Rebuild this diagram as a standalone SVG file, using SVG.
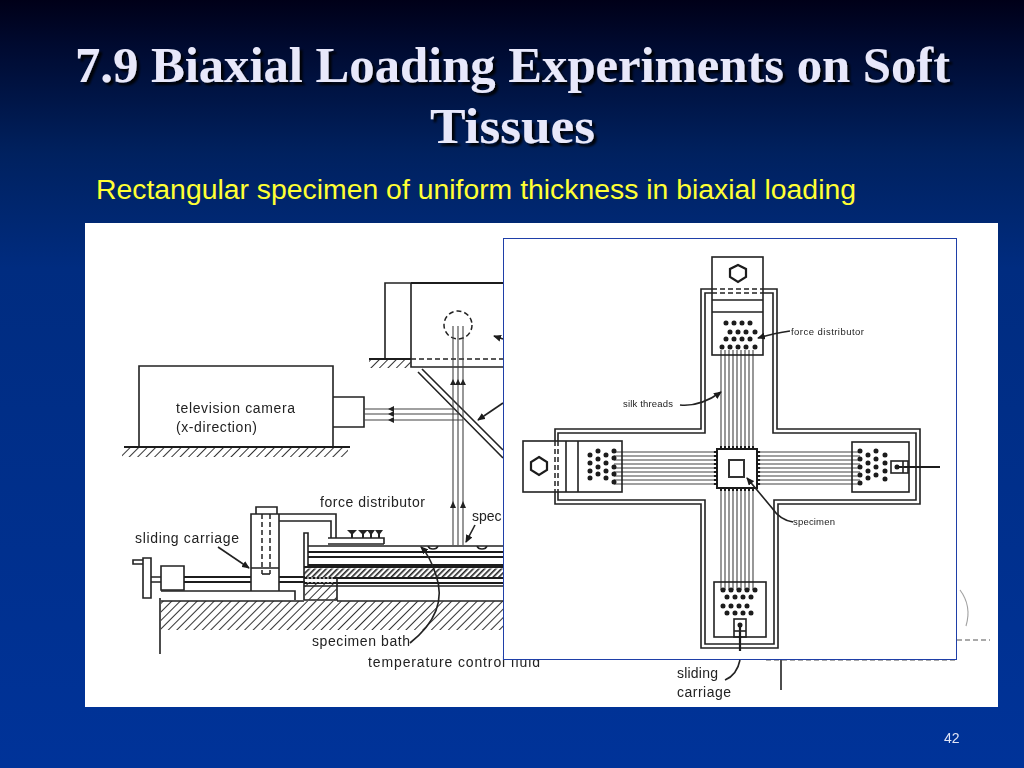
<svg xmlns="http://www.w3.org/2000/svg" width="1024" height="768" viewBox="0 0 1024 768">
<style>
.l{fill:none;stroke:#222;stroke-width:1.6}
.t{fill:none;stroke:#444;stroke-width:1.1}
.k{fill:none;stroke:#1a1a1a;stroke-width:2.2}
.d{fill:none;stroke:#222;stroke-width:1.5;stroke-dasharray:5 3}
.dot{fill:none;stroke:#1a1a1a;stroke-width:5;stroke-linecap:round}
.lb{font-family:"Liberation Sans",Arial,sans-serif;fill:#222;font-size:14px}
.ls{font-family:"Liberation Sans",Arial,sans-serif;fill:#222;font-size:9.500px}
.title{font-family:"Liberation Serif","Times New Roman",serif;font-weight:700;font-size:50px;fill:#e8e8fa;filter:url(#sh)}
.sub{font-family:"Liberation Sans",Arial,sans-serif;font-size:27px;fill:#ffff33}
.wd{fill:none;stroke:#fff;stroke-width:1.2;stroke-dasharray:2 2}
.g{fill:#222}
</style>
<defs>
<linearGradient id="bg" x1="0" y1="0" x2="0" y2="1">
<stop offset="0" stop-color="#000018"/>
<stop offset="0.06" stop-color="#000a30"/>
<stop offset="0.2" stop-color="#00215f"/>
<stop offset="0.35" stop-color="#002c80"/>
<stop offset="1" stop-color="#003399"/>
</linearGradient>
<pattern id="h" width="6" height="6" patternUnits="userSpaceOnUse" patternTransform="rotate(45)"><rect width="1" height="6" fill="#333"/></pattern>
<pattern id="hb" width="4" height="4" patternUnits="userSpaceOnUse" patternTransform="rotate(45)"><rect width="1.600" height="4" fill="#222"/></pattern>
<marker id="a" markerWidth="8" markerHeight="7" refX="7" refY="3.500" orient="auto" markerUnits="userSpaceOnUse"><path d="M0 0L8 3.500L0 7Z" fill="#1a1a1a"/></marker>
<filter id="sh" x="-5%" y="-20%" width="110%" height="150%"><feDropShadow dx="3" dy="3" stdDeviation="0.800" flood-color="#000" flood-opacity="0.900"/></filter>
<filter id="soft"><feGaussianBlur stdDeviation="0.400"/></filter>
</defs>
<rect id="background" width="1024" height="768" fill="url(#bg)"/>
<text class="title" x="75" y="82" textLength="875" lengthAdjust="spacingAndGlyphs">7.9 Biaxial Loading Experiments on Soft</text>
<text class="title" x="430" y="143" textLength="165" lengthAdjust="spacingAndGlyphs">Tissues</text>
<text class="sub" x="96" y="199" textLength="760" lengthAdjust="spacingAndGlyphs">Rectangular specimen of uniform thickness in biaxial loading</text>
<rect id="panel" x="85" y="223" width="913" height="484" fill="#fff"/>
<g id="side-view" filter="url(#soft)">
<g id="camera">
<path class="l" d="M139 447V366H333V447M333 397H364V427H333"/>
<path class="k" d="M124 447H350"/>
<rect x="122" y="448" width="226" height="9" fill="url(#h)"/>
</g>
<g id="upper-box">
<path class="l" d="M385 359V283H411M411 283V367H503"/>
<path class="k" d="M411 283H503"/>
<path class="d" d="M411 359H503" stroke-dasharray="3 2"/>
<path class="k" d="M369 359H411"/>
<rect x="369" y="360" width="42" height="8" fill="url(#h)"/>
<circle class="d" cx="458" cy="325" r="14"/>
<path class="l" d="M418 372L503 458M422 369L503 450"/>
<path class="l" d="M503 339L494 336" marker-end="url(#a)"/>
<path class="l" d="M503 403L478 420" marker-end="url(#a)"/>
</g>
<g id="beams">
<path class="t" d="M453 326V545M458 326V545M463 326V545"/>
<path class="t" d="M364 409H455M364 414H460M364 420H463" stroke-width="1.400"/>
<path class="g" d="M453 379l-3 6h6zM458 379l-3 6h6zM463 379l-3 6h6zM453 501l-3 7h6zM463 501l-3 7h6zM388 409l6-3v6zM388 414l6-3v6zM388 420l6-3v6z"/>
</g>
<g id="carriage">
<path class="l" d="M143 558h8v40h-8zM133 560h10v4h-10zM151 577h10M151 582h10M161 566h23v24h-23z"/>
<path class="k" d="M184 577H251M184 582H251M279 577H305M279 582H305"/>
<path class="wd" d="M164 577H182M164 582H182M254 577H277M254 582H277M254 586H277"/>
<path class="l" d="M161 591H295V600M251 591V514H279V591M251 568H279M256 514V507H277V514M279 521H331V538M279 514H336V538"/>
<path class="d" d="M262 514V574M270 514V574"/>
<path class="l" d="M262 574h8"/>
</g>
<g id="stage">
<path class="l" d="M304 600V533H308V568M328 538H384V544M328 544H384"/>
<path class="l" d="M308 546H503M428 546q1 3 5 3t5-3M477 546q1 3 5 3t5-3"/>
<path class="k" d="M308 552H503M308 557H503M308 565H503M304 567H503M304 578H503M304 583H503"/>
<path class="l" d="M304 586H503M337 601H503M304 600H337V578"/>
<rect x="304" y="568.500" width="199" height="9" fill="url(#hb)"/>
<rect x="305" y="584" width="32" height="16" fill="url(#h)"/>
<path class="wd" d="M307 578H334M307 582H334"/>
<path class="g" d="M347 530h10l-4 4v4h-2v-4zM358 530h10l-4 4v4h-2v-4zM367 530h8l-3 4v4h-2v-4zM375 530h8l-3 4v4h-2v-4z"/>
<rect x="161" y="601" width="342" height="29" fill="url(#h)"/>
<path class="l" d="M160 598V654M161 601H304"/>
</g>
<g id="side-connectors">
<path class="l" d="M410 643Q449 612 436 575Q430 556 421 547" marker-end="url(#a)"/>
<path class="l" d="M475 525L466 542" marker-end="url(#a)"/>
<path class="l" d="M218 547L249 568" marker-end="url(#a)"/>
</g>
<g id="behind-inset">
<path class="t" d="M960 590Q972 606 966 626" opacity="0.500"/>
<path class="d" d="M766 660H957M957 640H990" stroke-dasharray="2 5" opacity="0.500"/>
<path class="l" d="M781 660V690"/>
</g>
</g>
<g id="side-labels">
<text class="lb" x="176" y="413" textLength="119" lengthAdjust="spacing">television camera</text>
<text class="lb" x="176" y="432" textLength="81" lengthAdjust="spacing">(x-direction)</text>
<text class="lb" x="320" y="507" textLength="105" lengthAdjust="spacing">force distributor</text>
<text class="lb" x="135" y="543" textLength="104" lengthAdjust="spacing">sliding carriage</text>
<text class="lb" x="472" y="521">spec</text>
<text class="lb" x="312" y="646" textLength="98" lengthAdjust="spacing">specimen bath</text>
<text class="lb" x="368" y="667" textLength="172" lengthAdjust="spacing">temperature control fluid</text>
</g>
<rect id="inset" x="503.500" y="238.500" width="453" height="421" fill="#fff" stroke="#1f3fa8" stroke-width="1"/>
<g id="top-view" filter="url(#soft)">
<g id="channel">
<path class="l" d="M712 289H701V429H555V441M555 492V504H701V648H778V504H920V429H777V289H763"/>
<path class="l" d="M712 293H705V433H558V441M558 492V500H705V644H774V500H916V433H773V293H763"/>
<path class="d" d="M712 289H763M712 293H763M555 441V492M558 441V492" stroke-dasharray="5 2"/>
</g>
<g id="threads">
<path class="t" d="M721 350V449M725 350V449M729 350V449M733 350V449M737 350V449M741 350V449M745 350V449M749 350V449M753 350V449"/>
<path class="t" d="M721 488V590M725 488V590M729 488V590M733 488V590M737 488V590M741 488V590M745 488V590M749 488V590M753 488V590"/>
<path class="t" d="M614 452H717M614 456H717M614 460H717M614 464H717M614 468H717M614 472H717M614 476H717M614 480H717M614 484H717"/>
<path class="t" d="M757 452H860M757 456H860M757 460H860M757 464H860M757 468H860M757 472H860M757 476H860M757 480H860M757 484H860"/>
</g>
<g id="block-top">
<rect class="l" x="712" y="257" width="51" height="98"/>
<path class="l" d="M712 300H763M712 312H763"/>
<path class="k" d="M738 265l8 4v8l-8 5l-8-5v-8z"/>
<path class="dot" d="M726 323h0M734 323h0M742 323h0M750 323h0M730 332h0M738 332h0M746 332h0M755 332h0M726 339h0M734 339h0M742 339h0M750 339h0M722 347h0M730 347h0M738 347h0M746 347h0M755 347h0"/>
</g>
<g id="block-left">
<rect class="l" x="523" y="441" width="99" height="51"/>
<path class="l" d="M566 441V492M578 441V492"/>
<path class="k" d="M539 457l8 5v8l-8 5l-8-5v-8z"/>
<path class="dot" d="M590 455h0M590 463h0M590 471h0M590 478h0M598 451h0M598 459h0M598 467h0M598 474h0M606 455h0M606 463h0M606 471h0M606 478h0M614 451h0M614 458h0M614 467h0M614 474h0M614 482h0"/>
</g>
<g id="block-right">
<rect class="l" x="852" y="442" width="57" height="50"/>
<rect class="l" x="891" y="461" width="17" height="12"/>
<path class="k" d="M897 467H940"/>
<path class="l" d="M903 461V473"/>
<path class="dot" d="M860 451h0M860 459h0M860 467h0M860 475h0M860 483h0M868 455h0M868 463h0M868 471h0M868 478h0M876 451h0M876 459h0M876 467h0M876 475h0M885 455h0M885 463h0M885 471h0M885 479h0M897 467h0"/>
</g>
<g id="block-bottom">
<rect class="l" x="714" y="582" width="52" height="55"/>
<rect class="l" x="734" y="619" width="12" height="18"/>
<path class="k" d="M740 625V651" stroke-width="3"/>
<path class="l" d="M734 631H746"/>
<path class="dot" d="M723 590h0M731 590h0M739 590h0M747 590h0M755 590h0M727 597h0M735 597h0M743 597h0M751 597h0M723 606h0M731 606h0M739 606h0M747 606h0M727 613h0M735 613h0M743 613h0M751 613h0M740 625h0"/>
</g>
<g id="specimen">
<rect x="717" y="449" width="40" height="39" fill="#fff" stroke="#1a1a1a" stroke-width="2"/>
<path class="k" d="M720 447H755M720 490H755M715 451V486M759 451V486" stroke-dasharray="2 2" stroke-width="3"/>
<rect x="729" y="460" width="15" height="17" fill="none" stroke="#333" stroke-width="2"/>
</g>
<g id="top-connectors">
<path class="l" d="M790 331Q775 333 758 338" marker-end="url(#a)"/>
<path class="l" d="M680 405Q700 407 721 392" marker-end="url(#a)"/>
<path class="l" d="M793 522Q780 520 772 508L747 478" marker-end="url(#a)"/>
<path class="l" d="M725 680Q737 675 740 660"/>
</g>
</g>
<g id="top-labels">
<text class="ls" x="791" y="335" textLength="73" lengthAdjust="spacing">force distributor</text>
<text class="ls" x="623" y="407" textLength="50" lengthAdjust="spacing">silk threads</text>
<text class="ls" x="793" y="525" textLength="42" lengthAdjust="spacing">specimen</text>
<text class="lb" x="677" y="678" textLength="41" lengthAdjust="spacing">sliding</text>
<text class="lb" x="677" y="697" textLength="54" lengthAdjust="spacing">carriage</text>
</g>
<text id="page" x="944" y="743" font-family="Liberation Sans, Arial, sans-serif" font-size="14" fill="#e0e4f5">42</text>
</svg>
